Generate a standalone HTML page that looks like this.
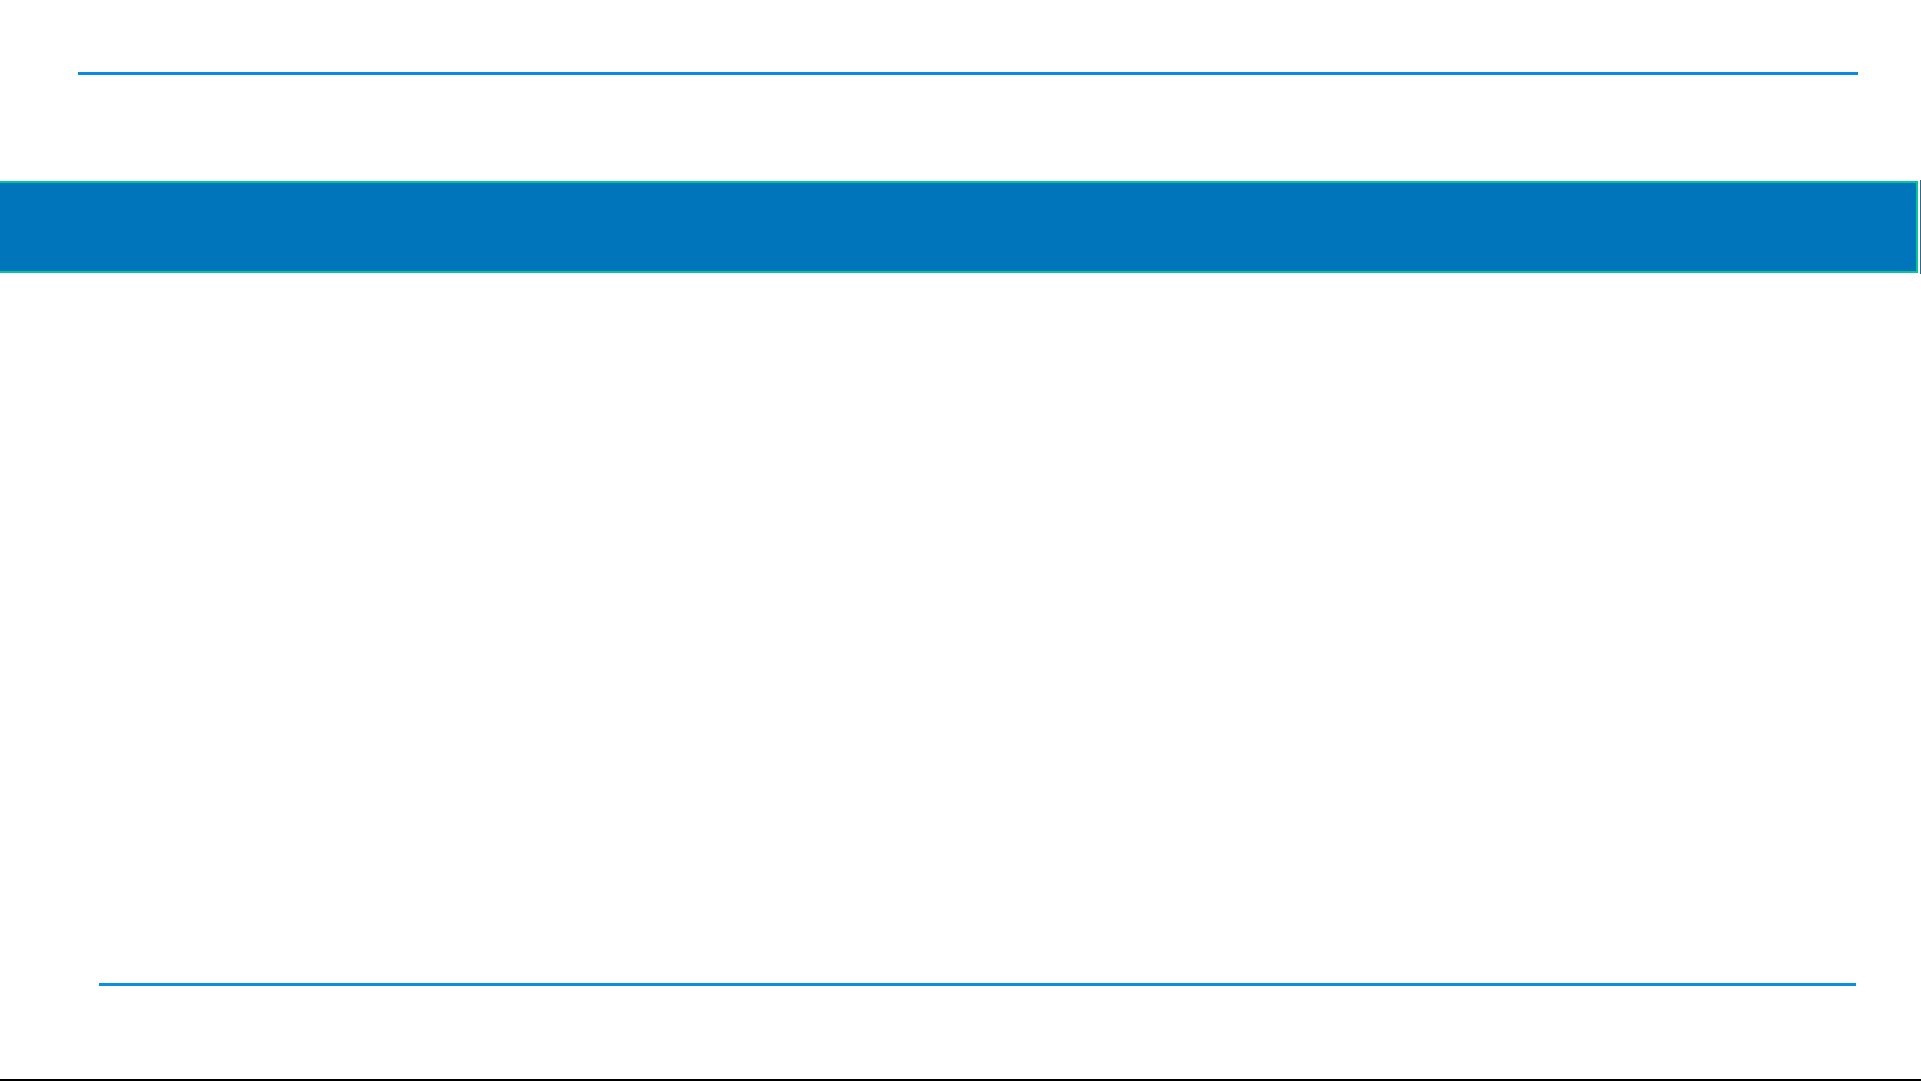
<!DOCTYPE html>
<html><head><meta charset="utf-8"><style>
html,body{margin:0;padding:0;width:1921px;height:1081px;background:#fff;overflow:hidden;position:relative;font-family:"Liberation Sans",sans-serif}
div{position:absolute}
</style></head><body>
<div style="left:78px;top:72px;width:1780px;height:3px;background:#0a8ae0"></div>
<div style="left:0;top:181px;width:1918px;height:92px;background:#0075bb;box-sizing:border-box;border:2px solid #00c896;border-left:none"></div>
<div style="left:1920px;top:180px;width:1px;height:94px;background:#2a6a8a"></div>
<div style="left:99px;top:983px;width:1757px;height:3px;background:#0a90e0"></div>
<div style="left:0;top:1079px;width:1921px;height:2px;background:#000"></div>
</body></html>
